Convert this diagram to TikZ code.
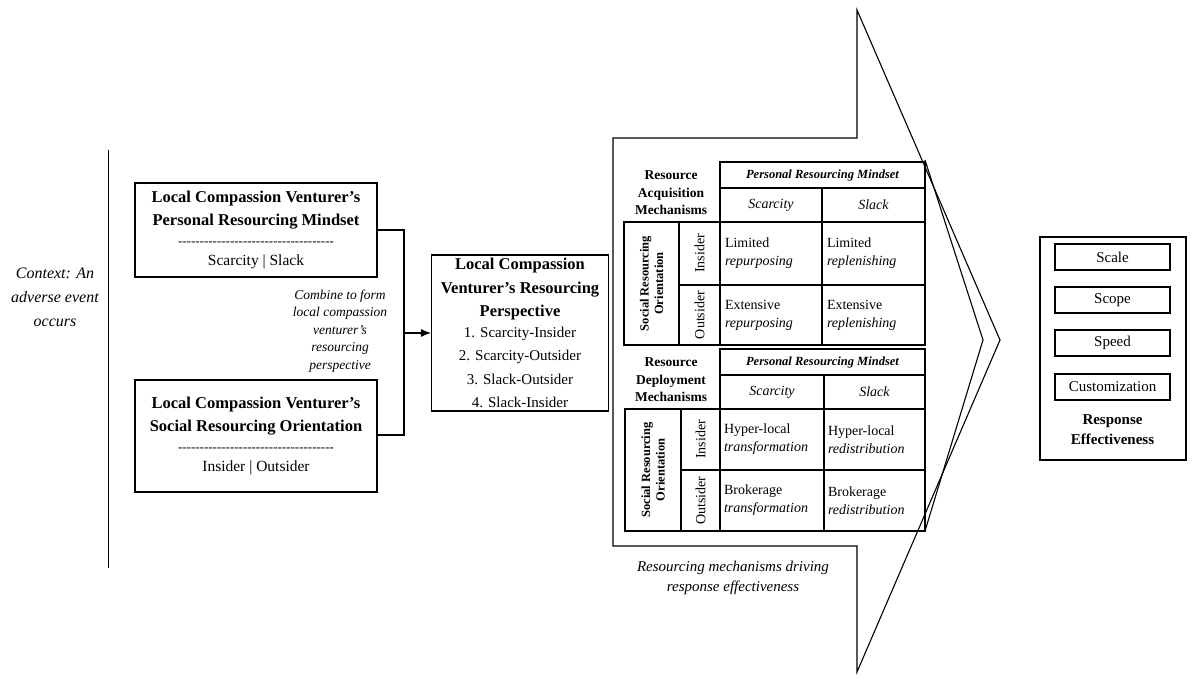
\documentclass[tikz,border=0pt]{standalone}
\usepackage{fontspec}
\setmainfont{Liberation Serif}
\usetikzlibrary{arrows.meta}
\newcommand{\lst}[1]{{\fontsize{15}{22}\selectfont #1}}
\begin{document}
\begin{tikzpicture}[x=1pt,y=-1pt,line width=1.1pt,
  box/.style={draw,rectangle,inner sep=0pt,align=center},
  cell/.style={draw,rectangle,inner sep=0pt},
  big/.style={font=\fontsize{16.5}{23.5}\selectfont},
  mid/.style={font=\fontsize{15}{21}\selectfont},
  tsm/.style={font=\fontsize{14}{18}\selectfont}]
\useasboundingbox (0,0) rectangle (1200,684);
% context
\draw[line width=0.8pt] (108,150) coordinate (v1) -- (108,568) coordinate (v2);
\node[align=center,font=\fontsize{16}{24}\selectfont\itshape] (ctx) at (55,297) {Context: An\\adverse event\\occurs};
% left boxes
\node[box,minimum width=242,minimum height=94,big] (pm) at (256,230) {\textbf{Local Compassion Venturer’s}\\\textbf{Personal Resourcing Mindset}\\[-4pt]{\fontsize{13}{15}\selectfont -{}-{}-{}-{}-{}-{}-{}-{}-{}-{}-{}-{}-{}-{}-{}-{}-{}-{}-{}-{}-{}-{}-{}-{}-{}-{}-{}-{}-{}-{}-{}-{}-{}-{}-{}-}\\[-3pt]{\fontsize{15.5}{20}\selectfont Scarcity | Slack}};
\node[box,minimum width=242,minimum height=112,big] (so) at (256,436) {\textbf{Local Compassion Venturer’s}\\\textbf{Social Resourcing Orientation}\\[-4pt]{\fontsize{13}{15}\selectfont -{}-{}-{}-{}-{}-{}-{}-{}-{}-{}-{}-{}-{}-{}-{}-{}-{}-{}-{}-{}-{}-{}-{}-{}-{}-{}-{}-{}-{}-{}-{}-{}-{}-{}-{}-}\\[-3pt]{\fontsize{15.5}{20}\selectfont Insider | Outsider}};
\node[align=center,font=\fontsize{13.5}{17.5}\selectfont\itshape] (cmb) at (340,331) {Combine to form\\local compassion\\venturer’s\\resourcing\\perspective};
% middle box
\node[box,minimum width=177,minimum height=156,big] (rp) at (520,333) {\textbf{Local Compassion}\\\textbf{Venturer’s Resourcing}\\\textbf{Perspective}\\[-3pt]\lst{1. Scarcity-Insider}\\\lst{2. Scarcity-Outsider}\\\lst{3. Slack-Outsider}\\\lst{4. Slack-Insider}};
\coordinate (j) at (404,333);
\draw (pm.east |- 0,230) -- (404,230) -- (404,435) -- (so.east |- 0,435);
\draw[-{Latex[length=10pt,width=8pt]}] (j) -- (rp.west);
% big arrow
\draw (613,138) -- (857,138) -- (857,10) -- (1000,340) -- (857,672) -- (857,546) -- (613,546) -- cycle;
\draw (925,160) -- (983,340) -- (925,531);
% top table
\node[cell,minimum width=205,minimum height=26,font=\fontsize{12.5}{14}\selectfont\bfseries\itshape] (h1) at (822.5,175) {Personal Resourcing Mindset};
\node[cell,minimum width=102,minimum height=34,font=\fontsize{14}{18}\selectfont\itshape] (s1) at (771,205) {Scarcity};
\node[cell,minimum width=103,minimum height=34,font=\fontsize{14}{18}\selectfont\itshape] (k1) at (873.5,205) {Slack};
\node[align=center,font=\fontsize{13.5}{17.5}\selectfont\bfseries] (am) at (671,193) {Resource\\Acquisition\\Mechanisms};
\node[cell,minimum width=55,minimum height=123] (o1) at (651.5,283.5) {};
\node[rotate=90,align=center,font=\fontsize{12.5}{14.5}\selectfont\bfseries] at (o1) {Social Resourcing\\Orientation};
\node[cell,minimum width=41,minimum height=63] (i1) at (699.5,253.5) {};
\node[rotate=90,tsm] at (i1) {Insider};
\node[cell,minimum width=41,minimum height=60] (u1) at (699.5,315) {};
\node[rotate=90,tsm] at (u1) {Outsider};
\foreach \n/\x/\w/\y/\h/\a/\b in {c11/771/102/253.5/63/Limited/repurposing, c12/873.5/103/253.5/63/Limited/replenishing, c21/771/102/315/60/Extensive/repurposing, c22/873.5/103/315/60/Extensive/replenishing}{
  \node[cell,minimum width=\w,minimum height=\h] (\n) at (\x,\y) {};
  \node[anchor=west,align=left,tsm,inner sep=0pt] at ([xshift=5pt]\n.west) {\a\\\textit{\b}};
}
% bottom table
\node[cell,minimum width=205,minimum height=26,font=\fontsize{12.5}{14}\selectfont\bfseries\itshape] (h2) at (822.5,362) {Personal Resourcing Mindset};
\node[cell,minimum width=104,minimum height=34,font=\fontsize{14}{18}\selectfont\itshape] (s2) at (772,392) {Scarcity};
\node[cell,minimum width=101,minimum height=34,font=\fontsize{14}{18}\selectfont\itshape] (k2) at (874.5,392) {Slack};
\node[align=center,font=\fontsize{13.5}{17.5}\selectfont\bfseries] (dm) at (671,380) {Resource\\Deployment\\Mechanisms};
\node[cell,minimum width=56,minimum height=122] (o2) at (653,470) {};
\node[rotate=90,align=center,font=\fontsize{12.5}{14.5}\selectfont\bfseries] at (o2) {Social Resourcing\\Orientation};
\node[cell,minimum width=39,minimum height=61] (i2) at (700.5,439.5) {};
\node[rotate=90,tsm] at (i2) {Insider};
\node[cell,minimum width=39,minimum height=61] (u2) at (700.5,500.5) {};
\node[rotate=90,tsm] at (u2) {Outsider};
\foreach \n/\x/\w/\y/\a/\b in {d11/772/104/439.5/Hyper-local/transformation, d12/874.5/101/439.5/Hyper-local/redistribution, d21/772/104/500.5/Brokerage/transformation, d22/874.5/101/500.5/Brokerage/redistribution}{
  \node[cell,minimum width=\w,minimum height=61] (\n) at (\x,\y) {};
  \node[anchor=west,align=left,tsm,inner sep=0pt] at ([xshift=4pt]\n.west) {\a\\\textit{\b}};
}
\node[align=center,font=\fontsize{15}{20}\selectfont\itshape] (cap) at (733,578) {Resourcing mechanisms driving\\response effectiveness};
% right box
\node[box,minimum width=146,minimum height=223] (re) at (1113,348.5) {};
\foreach \n/\y/\t in {sc/257/Scale, sp/300/Scope, sd/343/Speed, cu/387/Customization}
  \node[box,minimum width=115,minimum height=26,mid] (\n) at (1112.5,\y) {\t};
\node[align=center,font=\fontsize{15}{20}\selectfont\bfseries] (rel) at (1112.5,430) {Response\\Effectiveness};
\end{tikzpicture}
\end{document}
